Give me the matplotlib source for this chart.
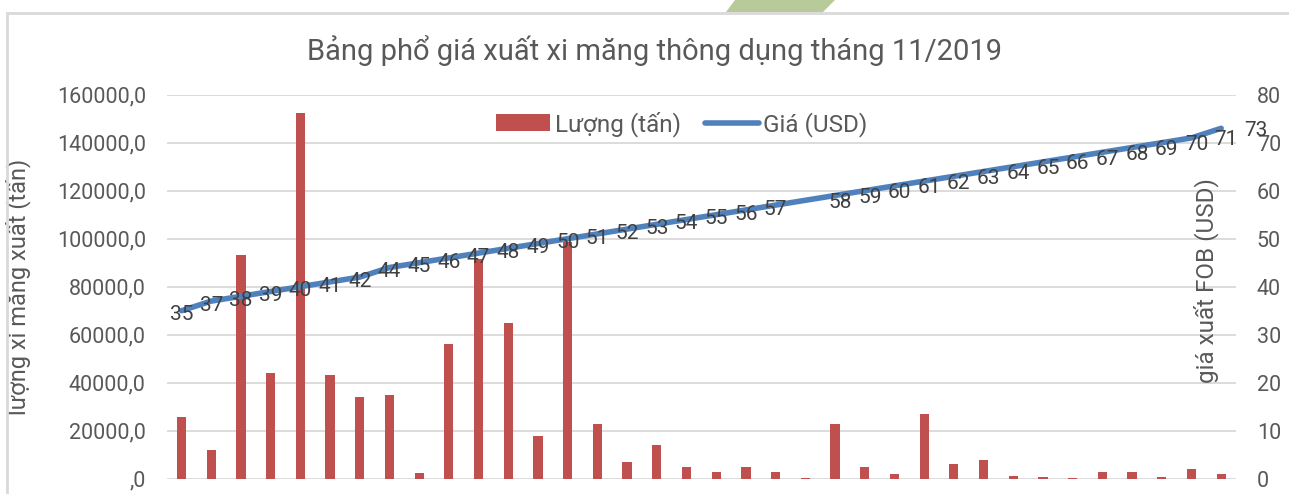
import numpy as np
import matplotlib
matplotlib.use("Agg")
import matplotlib.pyplot as plt
from matplotlib.patches import Polygon, Rectangle
from matplotlib.ticker import FuncFormatter

plt.rcParams["font.family"] = ["Roboto", "DejaVu Sans"]

# %%
# data
prices = [35, 37, 38, 39, 40, 41, 42, 44, 45, 46, 47, 48, 49, 50, 51, 52, 53, 54,
          55, 56, 57, 58, 59, 60, 61, 62, 63, 64, 65, 66, 67, 68, 69, 70, 71, 73]
volumes = [25700, 11900, 93000, 44200, 152300, 43200, 33900, 34900, 2400, 56100,
           91700, 64900, 17700, 98500, 22700, 6900, 14000, 4900, 2700, 4800,
           2700, 300, 22700, 4800, 2100, 26900, 6300, 7900, 1300, 500,
           300, 2900, 2900, 600, 3900, 1800]

title = "Bảng phổ giá xuất xi măng thông dụng tháng 11/2019"
left_label = "lượng xi măng xuất (tấn)"
right_label = "giá xuất FOB (USD)"
bar_name = "Lượng (tấn)"
line_name = "Giá (USD)"

text_col = "#595959"
bar_col = "#C0504D"
line_col = "#4F81BD"
grid_col = "#D9D9D9"

# %%
fig = plt.figure(figsize=(12.89, 4.94), dpi=100)
ax = fig.add_axes([0.1293, 0.031, 0.8296, 0.7773])
ax2 = ax.twinx()

x = np.arange(len(prices))
ax.bar(x, volumes, width=0.31, color=bar_col, zorder=2, label=bar_name)
ax.set_ylim(0, 160000)
ax.set_xlim(-0.5, len(prices) - 0.5)
ax.set_yticks(np.arange(0, 160001, 20000))
ax.yaxis.set_major_formatter(FuncFormatter(
    lambda v, _: ",0" if v == 0 else f"{int(v)},0"))
ax.grid(axis="y", color=grid_col, lw=1.3, zorder=0)
ax.set_xticks([])
for s in ax.spines.values():
    s.set_visible(False)
ax.tick_params(axis="y", length=0, pad=15, labelsize=15.5, labelcolor=text_col)
ax.set_ylabel(left_label, fontsize=17, color=text_col)
ax.yaxis.set_label_coords(-0.127, 0.5)

ax2.plot(x, prices, color=line_col, lw=4, solid_capstyle="round",
         zorder=3, label=line_name)
ax2.set_ylim(0, 80)
ax2.set_yticks(np.arange(0, 81, 10))
for s in ax2.spines.values():
    s.set_visible(False)
ax2.tick_params(axis="y", length=0, pad=15, labelsize=15.5, labelcolor=text_col)
ax2.text(0.972, 0.515, right_label, transform=ax2.transAxes, rotation=90,
         ha="center", va="center", fontsize=17.5, color=text_col)

# data labels for the price line
for i, p in enumerate(prices):
    dx = 0 if i < 21 else 25
    dy = -3 if i < 21 else -1.5
    ax2.annotate(str(p), (i, p), xytext=(dx, dy), textcoords="offset points",
                 ha="center", va="center", fontsize=15, color="#404040", zorder=4)

h1, l1 = ax.get_legend_handles_labels()
h2, l2 = ax2.get_legend_handles_labels()
leg = ax2.legend(h1 + h2, l1 + l2, loc="center", bbox_to_anchor=(0.482, 0.924),
                 ncol=2, frameon=False, fontsize=17.5, handlelength=2.2,
                 columnspacing=1.0, handletextpad=0.2)
for t in leg.get_texts():
    t.set_color(text_col)

fig.text(0.508, 0.898, title, ha="center", va="center", fontsize=21,
         color=text_col)

# chart frame and the decoration at the top
fig.patches.append(Rectangle((7 / 1289, -0.1), 1.2, 1 - 12.5 / 494 + 0.1,
                             transform=fig.transFigure, fill=False,
                             ec="#D9D9D9", lw=2))
fig.patches.append(Polygon([(735 / 1289, 1), (835 / 1289, 1),
                            (823 / 1289, 1 - 12 / 494), (726 / 1289, 1 - 12 / 494)],
                           closed=True, transform=fig.transFigure,
                           fc="#B9CA9A", ec="none"))

fig.savefig("out.png", dpi=100)
